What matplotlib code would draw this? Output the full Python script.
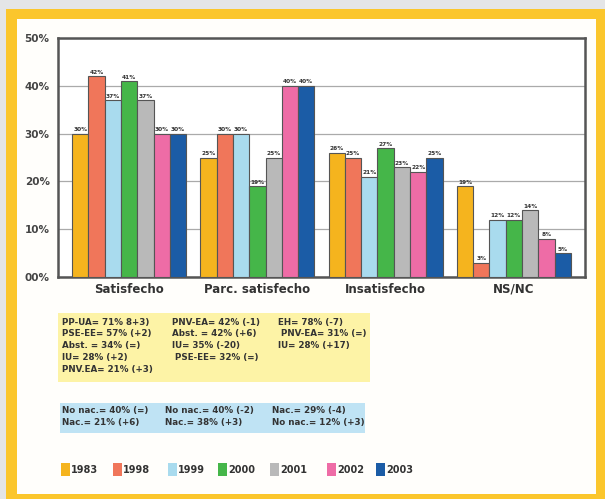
import matplotlib
matplotlib.use('Agg')
import matplotlib.pyplot as plt
from matplotlib.patches import Rectangle
import numpy as np

# Data
categories = ['Satisfecho', 'Parc. satisfecho', 'Insatisfecho', 'NS/NC']
years = ['1983', '1998', '1999', '2000', '2001', '2002', '2003']
values = {
    '1983': [30, 25, 26, 19],
    '1998': [42, 30, 25, 3],
    '1999': [37, 30, 21, 12],
    '2000': [41, 19, 27, 12],
    '2001': [37, 25, 23, 14],
    '2002': [30, 40, 22, 8],
    '2003': [30, 40, 25, 5],
}
colors = ['#f5b41e', '#f0765a', '#a9dbee', '#45b649', '#b9b9b9', '#ee6ca6', '#1b5ca6']
y_ticks = [0, 10, 20, 30, 40, 50]
y_ticklabels = ['00%', '10%', '20%', '30%', '40%', '50%']

yellow_col1 = ['PP-UA= 71% 8+3)', 'PSE-EE= 57% (+2)', 'Abst. = 34% (=)', 'IU= 28% (+2)', 'PNV.EA= 21% (+3)']
yellow_col2 = ['PNV-EA= 42% (-1)', 'Abst. = 42% (+6)', 'IU= 35% (-20)', ' PSE-EE= 32% (=)']
yellow_col3 = ['EH= 78% (-7)', ' PNV-EA= 31% (=)', 'IU= 28% (+17)']
blue_col1 = ['No nac.= 40% (=)', 'Nac.= 21% (+6)']
blue_col2 = ['No nac.= 40% (-2)', 'Nac.= 38% (+3)']
blue_col3 = ['Nac.= 29% (-4)', 'No nac.= 12% (+3)']

W, H = 605, 499
fig = plt.figure(figsize=(W / 100, H / 100), dpi=100)
fig.patch.set_facecolor('#e4e5e7')


def box(x0, y0, x1, y1, color, z=0):
    """Rectangle in pixel coords (origin top-left) on the figure."""
    r = Rectangle((x0 / W, 1 - y1 / H), (x1 - x0) / W, (y1 - y0) / H,
                  transform=fig.transFigure, facecolor=color, edgecolor='none', zorder=z)
    fig.patches.append(r)


def ftext(px, py, s, **kw):
    fig.text(px / W, 1 - py / H, s, **kw)


# yellow frame and white panel
box(6, 9, 605, 499, '#fbc62c')
box(17, 19, 596, 494, '#fffefb')

ax = fig.add_axes([58 / W, 1 - 277 / H, (585 - 58) / W, (277 - 38) / H])
ax.set_zorder(2)
ax.set_facecolor('white')

n = len(years)
bw = 0.127
x = np.arange(len(categories))
for i, yr in enumerate(years):
    pos = x + (i - (n - 1) / 2) * bw
    bars = ax.bar(pos, values[yr], width=bw, color=colors[i], edgecolor='#555555',
                  linewidth=0.8, zorder=3)
    for b, v in zip(bars, values[yr]):
        ax.text(b.get_x() + b.get_width() / 2, v + 0.3, f'{v}%', ha='center', va='bottom',
                fontsize=4.2, fontweight='bold', color='#333333', zorder=4)

ax.set_xlim(-0.555, 3.555)
ax.set_ylim(0, 50)
ax.set_yticks(y_ticks)
ax.set_yticklabels(y_ticklabels, fontsize=7.5, fontweight='bold', color='#444444',
                   family='Liberation Sans Narrow')
ax.tick_params(axis='y', length=0, pad=6)
ax.set_xticks(x)
ax.set_xticklabels(categories, fontsize=8.5, fontweight='bold', color='#333333',
                   family='Liberation Sans Narrow')
ax.tick_params(axis='x', length=0, pad=4)
ax.grid(axis='y', color='#aaaaaa', linewidth=0.9, zorder=0)
for s in ax.spines.values():
    s.set_color('#555555')
    s.set_linewidth(1.8)

# yellow note box
box(58, 313, 370, 382, '#fdf3a6', 1)
txt = dict(fontsize=6.3, fontweight='bold', color='#333333', family='Liberation Sans Narrow',
           va='center', ha='left')
for col, xp in [(yellow_col1, 62), (yellow_col2, 172), (yellow_col3, 278)]:
    for j, line in enumerate(col):
        ftext(xp, 322 + j * 11.8, line, **txt)

# blue note box
box(60, 403, 365, 433, '#bfe3f4', 1)
for col, xp in [(blue_col1, 62), (blue_col2, 165), (blue_col3, 272)]:
    for j, line in enumerate(col):
        ftext(xp, 411 + j * 12, line, **txt)

# legend
leg_x = [61, 113, 168, 218, 270, 327, 376]
for xp, yr, c in zip(leg_x, years, colors):
    box(xp, 463, xp + 9, 476, c, 1)
    ftext(xp + 10, 470, yr, fontsize=7, fontweight='bold', color='#333333',
          family='Liberation Sans Narrow', va='center', ha='left')

fig.savefig('out.png', dpi=100, facecolor=fig.get_facecolor())
